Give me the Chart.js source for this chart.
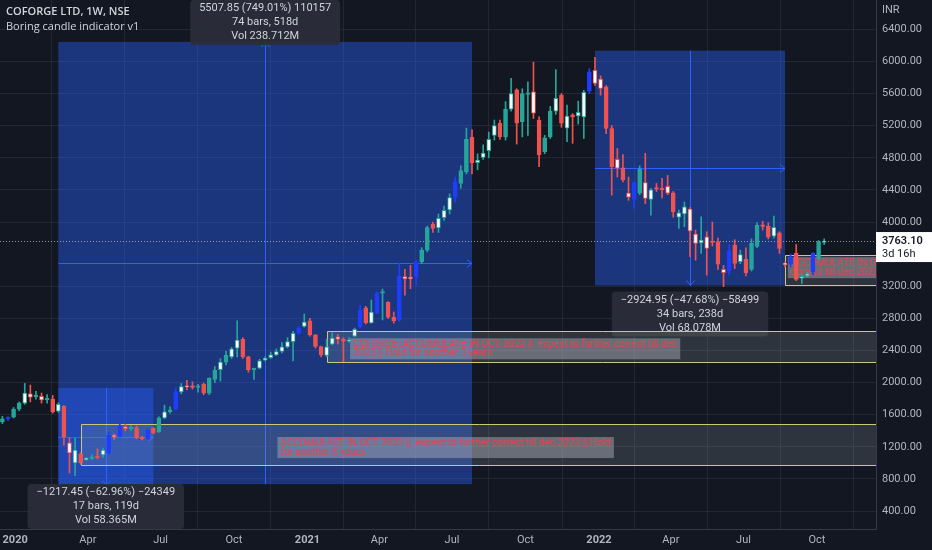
<!DOCTYPE html>
<html><head><meta charset="utf-8">
<script src="https://cdn.jsdelivr.net/npm/chart.js@4.4.1/dist/chart.umd.min.js"></script>
<style>html,body{margin:0;padding:0;background:#131722;overflow:hidden}canvas{display:block}</style>
</head><body><canvas id="c" width="932" height="550"></canvas>
<script>
// ---- DATA (weekly candles, index 0 = week of 30 Dec 2019) ----
const firstIndex = -2;
const openP = [1510,1550,1570,1670,1745,1860,1825,1830,1785,1795,
1645,1706,1250,1000,1112,1040,1055,1080,1100,1125,
1345,1330,1450,1425,1440,1320,1305,1430,1385,1560,
1635,1670,1885,1955,1950,1940,1980,1870,2040,2160,
2255,2320,2430,2540,2320,2160,2180,2280,2310,2345,
2390,2445,2510,2617,2700,2770,2595,2450,2340,2480,
2570,2540,2515,2580,2690,2930,2745,2870,3115,3000,
2815,2785,3320,3315,3315,3505,3650,3975,3925,4055,
4150,4305,4480,4625,5055,4740,4805,4890,5080,5230,
5060,5405,5645,5250,5590,5620,5270,4875,5060,5380,
5580,5170,5335,5320,5310,5630,5890,5780,5685,5165,
4780,4675,4360,4280,4360,4490,4280,4420,4420,4445,
4365,4060,4100,4160,3850,3740,3815,3760,3755,3410,
3395,3710,3505,3535,3410,3695,3960,3950,3825,3865,
3480,3475,3610,3300,3330,3380,3550,3745];
const highP = [1580,1575,1690,1760,1990,1970,1890,1870,1850,1840,
1750,1715,1310,1310,1130,1065,1100,1175,1185,1380,
1360,1500,1480,1465,1460,1330,1420,1440,1575,1720,
1700,1935,1990,2030,2010,1980,1995,2060,2200,2300,
2390,2440,2770,2560,2330,2180,2290,2320,2380,2420,
2500,2560,2640,2700,2855,2800,2600,2455,2540,2620,
2600,2560,2560,2680,2965,2950,3030,3130,3165,3010,
2880,3490,3410,3460,3520,3680,3950,4000,4100,4200,
4350,4560,4700,5170,5150,4850,4960,5120,5270,5270,
5500,5790,5660,5660,5745,5990,5310,5080,5440,5900,
5600,5455,5350,5505,5640,5910,6050,5820,5700,5200,
4915,4840,4560,4500,4700,4855,4420,4480,4545,4580,
4380,4150,4250,4180,3900,4065,3880,4000,3800,3460,
3720,3780,3650,3680,3790,3990,4010,3990,4075,3880,
3500,3600,3720,3350,3375,3620,3770,3790];
const lowP = [1490,1525,1560,1650,1730,1760,1795,1745,1745,1620,
1630,1220,875,840,980,1030,1040,1050,1070,1110,
1290,1320,1400,1405,1300,1285,1295,1360,1380,1550,
1620,1660,1860,1910,1920,1880,1850,1850,2000,2020,
2220,2300,2320,2300,2130,2040,2170,2270,2300,2335,
2370,2430,2270,2600,2690,2580,2430,2320,2320,2470,
2480,2260,2500,2570,2680,2730,2740,2860,2780,2800,
2740,2760,3090,3170,3210,3480,3630,3870,3870,4020,
4100,4250,4420,4600,4600,4650,4780,4800,5020,5030,
5020,5380,4970,5060,5080,5290,4690,4850,5040,5340,
5180,5000,4980,5220,5040,5600,5700,5580,5100,4335,
4560,4500,4270,4170,4340,4230,4085,4380,4300,4340,
4060,3920,3940,3570,3525,3610,3340,3700,3410,3195,
3340,3420,3480,3330,3390,3680,3900,3790,3800,3610,
3440,3440,3270,3235,3310,3340,3530,3720];
const closeP = [1550,1565,1670,1745,1870,1820,1835,1785,1800,1635,
1730,1325,1125,1160,1000,1055,1075,1065,1160,1345,
1325,1460,1425,1440,1310,1300,1410,1375,1560,1635,
1660,1885,1950,1945,1940,1950,1870,2055,2155,2255,
2340,2420,2530,2320,2160,2175,2270,2305,2345,2385,
2445,2510,2615,2680,2755,2595,2450,2345,2445,2555,
2540,2515,2530,2665,2905,2745,2880,3115,3130,2815,
2770,3325,3290,3290,3505,3650,3930,3920,4045,4145,
4305,4500,4640,5030,4740,4770,4860,5030,5200,5060,
5405,5600,5230,5600,5610,5355,4835,5050,5380,5540,
5230,5320,5310,5365,5615,5870,5725,5665,5165,4690,
4670,4525,4310,4490,4655,4295,4400,4410,4400,4360,
4125,4115,4190,3890,3735,3775,3670,3745,3475,3370,
3640,3485,3595,3370,3735,3960,3945,3810,3935,3670,
3470,3565,3285,3325,3355,3610,3755,3763.1];
// candle class from the "Boring candle indicator": g=up, r=down, w=boring, b=blue, h=hollow blue
const kinds = ("g h g g w w g w g r " +
"w r w w r w g r w b " +
"w b w g r r h r g w " +
"g b w w r g r g g w " +
"g w w r r g w w w w " +
"w w w h w r r r w w " +
"w r w w b r w b g r " +
"r b w w b g g r w w " +
"w b g g r w w w w r " +
"g w r g g w r g g w " +
"r w r w w b w w r r " +
"w r w h g w w r r w " +
"r w w w w w w r r w " +
"b r w r g g r r w r " +
"w b r w w b g w").trim().split(/\s+/);

const tickDates = ['2020-01-01','2020-04-01','2020-07-01','2020-10-01','2021-01-01','2021-04-01','2021-07-01','2021-10-01','2022-01-01','2022-04-01','2022-07-01','2022-10-01'];
const tickLabels = ['2020','Apr','Jul','Oct','2021','Apr','Jul','Oct','2022','Apr','Jul','Oct'];
const priceTicks = [400,800,1200,1600,2000,2400,2800,3200,4000,4400,4800,5200,5600,6000,6400];
const lastPrice = 3763.10;

// drawings (bar index / price anchors)
const measureFrom = [8, 8, 104];
const measureTo = [82, 25, 138];
const measurePriceFrom = [735.4, 1933.7, 6134.5];
const measurePriceTo = [6243.25, 716.25, 3209.55];
const measureText = [
 ['5507.85 (749.01%) 110157','74 bars, 518d','Vol 238.712M'],
 ['\u22121217.45 (\u221262.96%) \u221224349','17 bars, 119d','Vol 58.365M'],
 ['\u22122924.95 (\u221247.68%) \u221258499','34 bars, 238d','Vol 68.078M']
];
const zoneFrom = [12, 56, 138];
const zoneTop = [1485, 2646, 3588];
const zoneBottom = [975, 2252, 3215];
const noteIndex = [47.2, 60.2, 138.5];
const notePrice = [1322, 2552, 3562];
const noteText = [
 ['ACCUMULATE IN OCT 2022 ||  expect to further correct till dec 2023 || Hold','for another 3 years'],
 ['COFORGE :ACCUMULATE IN OCT 2022 ||  expect to further correct till dec','2023 || Hold for another 3 years'],
 ['ACCUMULATE IN OCT 2022 ||  expect to further','correct till dec 2023 || Hold for another 3 years']
];

// ---- build ----
const TEAL='#26a69a', RED='#ef5350', BLUE='#1f3dff', WHITE='#ffffff';
const idx = openP.map((_,k)=>firstIndex+k);
const dirCol = k => closeP[k]>=openP[k]?TEAL:RED;
const bodyFill = kinds.map((t,k)=> t==='g'?TEAL : t==='r'?RED : t==='w'?WHITE : t==='b'?BLUE : 'rgba(0,0,0,0)');
const bodyBorder = kinds.map((t,k)=> t==='g'?TEAL : t==='r'?RED : t==='w'?dirCol(k) : BLUE);
const wickCol = kinds.map((t,k)=> (t==='b'||t==='h')?BLUE : dirCol(k));
const base = Date.UTC(2019,11,30);
const tickPos = tickDates.map(d=>{const p=d.split('-');return (Date.UTC(+p[0],+p[1]-1,+p[2])-base)/(7*864e5);});

function rr(ctx,x,y,w,h,r){ctx.beginPath();ctx.moveTo(x+r,y);ctx.arcTo(x+w,y,x+w,y+h,r);ctx.arcTo(x+w,y+h,x,y+h,r);ctx.arcTo(x,y+h,x,y,r);ctx.arcTo(x,y,x+w,y,r);ctx.closePath();}
const UIFONT = '"Roboto","Liberation Sans",sans-serif';

const overlay = {
 id:'overlay',
 beforeDatasetsDraw(chart){
  const {ctx, chartArea:a, scales:{x,y}} = chart;
  ctx.save();
  ctx.beginPath(); ctx.rect(a.left,a.top,a.right-a.left,a.bottom-a.top); ctx.clip();
  // measure fills
  for(let m=0;m<measureFrom.length;m++){
   const x0=x.getPixelForValue(measureFrom[m]), x1=x.getPixelForValue(measureTo[m]);
   const y0=y.getPixelForValue(measurePriceFrom[m]), y1=y.getPixelForValue(measurePriceTo[m]);
   ctx.fillStyle='rgba(41,98,255,0.42)';
   ctx.fillRect(Math.min(x0,x1),Math.min(y0,y1),Math.abs(x1-x0),Math.abs(y1-y0));
  }
  // measure arrows
  ctx.strokeStyle='#2962ff'; ctx.lineWidth=1;
  for(let m=0;m<measureFrom.length;m++){
   const x0=x.getPixelForValue(measureFrom[m]), x1=x.getPixelForValue(measureTo[m]);
   const y0=y.getPixelForValue(measurePriceFrom[m]), y1=y.getPixelForValue(measurePriceTo[m]);
   const xm=Math.round((x0+x1)/2)+0.5, ym=Math.round((y0+y1)/2)+0.5;
   ctx.beginPath(); ctx.moveTo(x0,ym); ctx.lineTo(x1,ym); ctx.stroke();
   const sx=Math.sign(x1-x0);
   ctx.beginPath(); ctx.moveTo(x1-sx*5,ym-4); ctx.lineTo(x1,ym); ctx.lineTo(x1-sx*5,ym+4); ctx.stroke();
   ctx.beginPath(); ctx.moveTo(xm,y0); ctx.lineTo(xm,y1); ctx.stroke();
   const sy=Math.sign(y1-y0);
   ctx.beginPath(); ctx.moveTo(xm-4,y1-sy*5); ctx.lineTo(xm,y1); ctx.lineTo(xm+4,y1-sy*5); ctx.stroke();
  }
  // measure labels
  ctx.font='11px '+UIFONT; ctx.textAlign='center'; ctx.textBaseline='middle';
  for(let m=0;m<measureFrom.length;m++){
   const x0=x.getPixelForValue(measureFrom[m]), x1=x.getPixelForValue(measureTo[m]);
   const y0=y.getPixelForValue(measurePriceFrom[m]), y1=y.getPixelForValue(measurePriceTo[m]);
   const T=Math.min(y0,y1), B=Math.max(y0,y1), xm=(x0+x1)/2;
   const lines=measureText[m];
   const w=Math.max(...lines.map(s=>ctx.measureText(s).width))+18, h=45;
   let top;
   if(measurePriceTo[m]>measurePriceFrom[m]){ top=T-6-h; if(top<a.top) top=a.top; }
   else { top=B+6; if(top+h>a.bottom) top=a.bottom-h; }
   ctx.fillStyle='rgba(42,46,57,0.94)'; rr(ctx,xm-w/2,top,w,h,4); ctx.fill();
   ctx.fillStyle='#d1d4dc';
   lines.forEach((s,j)=>ctx.fillText(s,xm,top+8.5+j*14));
  }
  // zones
  for(let z=0;z<zoneFrom.length;z++){
   const x0=Math.round(x.getPixelForValue(zoneFrom[z]))+0.5, yt=Math.round(y.getPixelForValue(zoneTop[z]))+0.5, yb=Math.round(y.getPixelForValue(zoneBottom[z]))+0.5;
   ctx.fillStyle='rgba(140,160,160,0.22)';
   ctx.fillRect(x0,yt,a.right-x0,yb-yt);
   ctx.strokeStyle='#cdc878'; ctx.lineWidth=1;
   ctx.beginPath(); ctx.moveTo(a.right+1,yt); ctx.lineTo(x0,yt); ctx.lineTo(x0,yb); ctx.lineTo(a.right+1,yb); ctx.stroke();
  }
  ctx.font='10px "Roboto",Arial,sans-serif'; ctx.textAlign='left'; ctx.textBaseline='top';
  for(let n=0;n<noteIndex.length;n++){
   const nx=x.getPixelForValue(noteIndex[n]), ny=y.getPixelForValue(notePrice[n]);
   const lines=noteText[n];
   const w=Math.max(...lines.map(s=>ctx.measureText(s).width))+6, h=lines.length*9.5+2;
   ctx.fillStyle='rgba(175,180,190,0.45)'; ctx.fillRect(nx,ny,w,h);
   ctx.fillStyle='#f0404e';
   lines.forEach((s,j)=>ctx.fillText(s,nx+3,ny+1+j*9.5));
  }
  // last price dotted line
  const yp=Math.round(y.getPixelForValue(lastPrice))+0.5;
  ctx.strokeStyle='rgba(190,193,200,0.75)'; ctx.setLineDash([1,2]);
  ctx.beginPath(); ctx.moveTo(a.left,yp); ctx.lineTo(a.right,yp); ctx.stroke();
  ctx.restore();
 },
 afterDraw(chart){
  const {ctx, chartArea:a, scales:{y}} = chart;
  ctx.save();
  const yp=y.getPixelForValue(lastPrice);
  ctx.fillStyle='#ffffff'; ctx.fillRect(a.right,yp-9,chart.width-a.right,30);
  ctx.fillStyle='#131722'; ctx.textAlign='left'; ctx.textBaseline='middle';
  ctx.font='600 11px '+UIFONT; ctx.fillText(lastPrice.toFixed(2),a.right+6,yp);
  ctx.font='11px '+UIFONT; ctx.fillText('3d 16h',a.right+6,yp+13);
  ctx.fillStyle='#b2b5be'; ctx.font='11px '+UIFONT; ctx.fillText('INR',a.right+6,10);
  ctx.fillStyle='#d1d4dc';
  ctx.font='600 11px "Open Sans",sans-serif'; ctx.fillText('COFORGE LTD, 1W, NSE',6,12);
  ctx.font='11px "Open Sans",sans-serif'; ctx.fillText('Boring candle indicator v1',6,27);
  ctx.restore();
 }
};

new Chart(document.getElementById('c'), {
 type:'bar',
 data:{datasets:[
  {label:'wick', data: idx.map((i,k)=>({x:i,y:[lowP[k],highP[k]]})), backgroundColor:wickCol, barThickness:1, minBarLength:1, grouped:false, order:2},
  {label:'body', data: idx.map((i,k)=>({x:i,y:[openP[k],closeP[k]]})), backgroundColor:bodyFill, borderColor:bodyBorder, borderWidth:1, borderSkipped:false, barThickness:4, minBarLength:1.5, grouped:false, order:1}
 ]},
 options:{
  responsive:false, animation:false, devicePixelRatio:1,
  layout:{padding:0},
  plugins:{legend:{display:false}, tooltip:{enabled:false}},
  scales:{
   x:{type:'linear', min:-2.43, max:154.27, offset:false,
      grid:{color:'rgba(42,46,57,0.75)', drawTicks:false},
      border:{color:'#363a45'},
      afterBuildTicks(s){ s.ticks = tickPos.map(v=>({value:v})); },
      afterFit(s){ s.height = 21; s.paddingLeft = 0; s.paddingRight = 0; },
      ticks:{autoSkip:false, maxRotation:0, padding:5, color:'#b2b5be',
        font:(c)=>({family:UIFONT,size:11,weight:(c.index===0||c.index===4||c.index===8)?'bold':'normal'}),
        callback:(v,i)=>tickLabels[i]}},
   y:{position:'right', min:177, max:6765,
      grid:{color:'rgba(42,46,57,0.75)', drawTicks:false},
      border:{color:'#363a45'},
      afterBuildTicks(s){ s.ticks = priceTicks.map(v=>({value:v})); },
      afterFit(s){ s.width = 56; s.paddingTop = 0; s.paddingBottom = 0; },
      ticks:{padding:6, color:'#b2b5be', font:{family:UIFONT,size:11}, callback:v=>Number(v).toFixed(2)}}
  }
 },
 plugins:[overlay]
});
</script></body></html>
